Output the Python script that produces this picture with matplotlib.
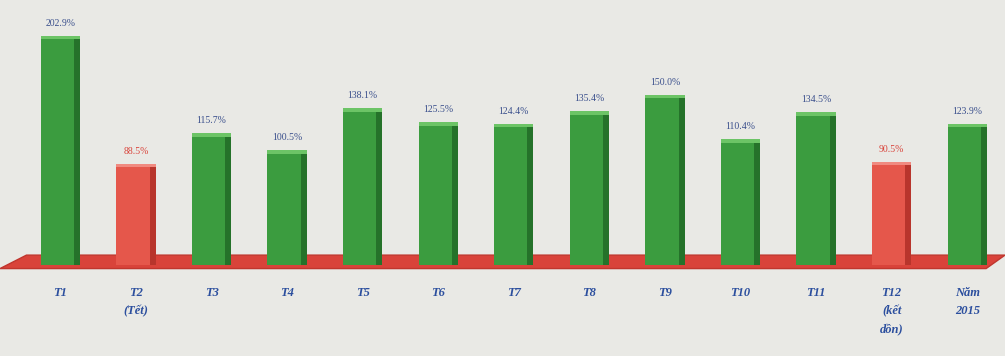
import numpy as np
import matplotlib.pyplot as plt
from matplotlib.patches import Polygon

# data
months = ['T1', 'T2\n(Tết)', 'T3', 'T4', 'T5', 'T6', 'T7', 'T8', 'T9',
          'T10', 'T11', 'T12\n(kết\ndồn)', 'Năm\n2015']
values = [202.9, 88.5, 115.7, 100.5, 138.1, 125.5, 124.4, 135.4, 150.0,
          110.4, 134.5, 90.5, 123.9]
labels = ['202.9%', '88.5%', '115.7%', '100.5%', '138.1%', '125.5%', '124.4%',
          '135.4%', '150.0%', '110.4%', '134.5%', '90.5%', '123.9%']

bg = '#e9e9e5'
fig = plt.figure(figsize=(10.05, 3.56), dpi=100, facecolor=bg)
ax = fig.add_axes([0.0, 0.233, 1.0, 0.724])
ax.set_facecolor(bg)

x = np.arange(len(values))
ax.set_xlim(-0.8, 12.5)
ax.set_ylim(-10, 220)

# red floor
floor = Polygon([(-0.8, -6), (12.25, -6), (12.5, 6), (-0.45, 6)],
                closed=True, facecolor='#d9433a', edgecolor='#c0362e', zorder=1)
ax.add_patch(floor)

colors = ['#e5574b' if v < 100 else '#3b9c3f' for v in values]
sides = ['#b8352c' if v < 100 else '#25722a' for v in values]
tops = ['#f08a80' if v < 100 else '#6cc466' for v in values]
w = 0.52
ax.bar(x, values, width=w, bottom=-3, color=colors, zorder=2)
ax.bar(x + w / 2 - 0.04, values, width=0.08, bottom=-3, color=sides, zorder=3)
ax.bar(x, 3, width=w, bottom=np.array(values) - 4, color=tops, zorder=3)

for xi, v, lab in zip(x, values, labels):
    col = '#d9433a' if v < 100 else '#3a4f8c'
    ax.text(xi, v + 6, lab, ha='center', va='bottom', fontsize=7,
            family='Liberation Serif', color=col, zorder=4)

for xi, m in zip(x, months):
    fig.text(ax.transData.transform((xi, 0))[0] / fig.bbox.width, 0.195, m,
             ha='center', va='top', fontsize=9, family='Liberation Serif',
             style='italic', weight='bold', color='#2c4f9e', linespacing=1.7)

ax.axis('off')
fig.savefig('out.png', dpi=100, facecolor=bg)
